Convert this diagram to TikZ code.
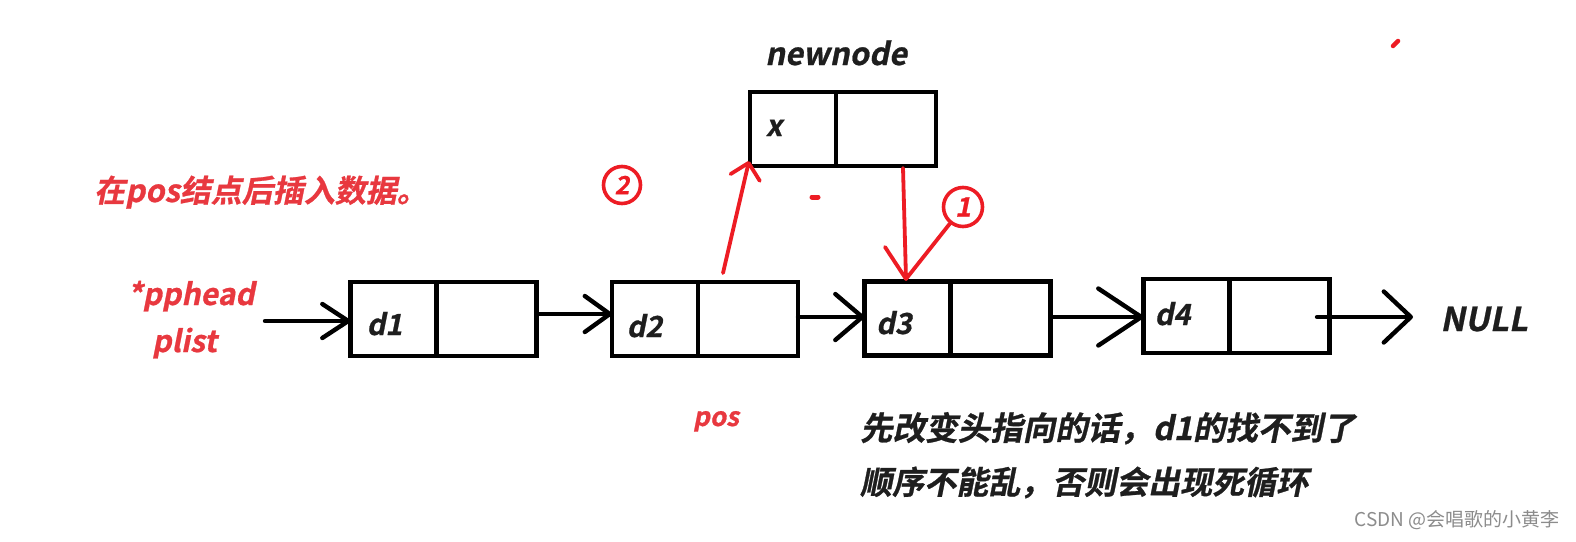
\documentclass[tikz,border=0pt]{standalone}
\usepackage{fontspec}
\usetikzlibrary{arrows.meta}
\newfontfamily\cjkb[FakeSlant=0.2,FakeBold=0.8]{Noto Sans CJK SC Bold}
\newfontfamily\cjkr{Noto Sans CJK SC}
\definecolor{inkred}{HTML}{ED1C24}
\definecolor{txtred}{HTML}{E8383F}
\definecolor{txtblk}{HTML}{1E1E1E}
\newcommand{\fsz}[1]{\fontsize{#1pt}{#1pt}\selectfont}
\begin{document}
\begin{tikzpicture}[x=1pt,y=-1pt,
  cell/.style={draw=black, line width=4.6pt, minimum width=186pt, minimum height=74pt, inner sep=0pt, outer sep=0pt},
  blk/.style={line width=4.4pt, line cap=round},
  lab/.style={font=\cjkb\fsz{29}, text=txtblk, anchor=base, inner sep=0pt},
  redtxt/.style={font=\cjkb\fsz{30}, text=txtred, anchor=base, inner sep=0pt},
  redln/.style={draw=inkred, line width=3.8pt, line cap=round},
  num/.style={circle, draw=inkred, line width=3.6pt, minimum size=39pt, inner sep=0pt, text=inkred, font=\cjkb\fsz{27}},
]
\useasboundingbox (0,0) rectangle (1576,541);
\fill[white] (0,0) rectangle (1576,541);

% boxes
\node[cell] (d1) at (443.5,319) {};
\node[cell] (d2) at (705,319) {};
\node[cell] (d3) at (957.5,318.5) {};
\node[cell] (d4) at (1236.5,316) {};
\node[cell] (nn) at (843,129) {};
\foreach \n in {d1,d2,d3,d4,nn}
  \draw[line width=4.6pt] ([xshift=86pt]\n.north west) -- ([xshift=86pt]\n.south west);

% labels in boxes
\node[lab] (l1) at (384.5,335) {d1};
\node[lab] (l2) at (644.5,337) {d2};
\node[lab] (l3) at (894,334) {d3};
\node[lab] (l4) at (1172.5,325) {d4};
\node[lab] (xl) at (774,136) {x};
\node[lab, font=\cjkb\fsz{31}] (nnl) at (836,65) {newnode};
\node[lab, font=\cjkb\fsz{33}] (nul) at (1484,331) {NULL};

% black arrows
\coordinate (hs) at (265,321);
\coordinate (y12) at (0,314);
\coordinate (y23) at (0,317);
\coordinate (s5) at (1317,317);
\coordinate (e5) at (1413,317);
\draw[blk, -{Straight Barb[length=26pt,width=34pt,round]}] (hs) -- (d1.west |- hs);
\draw[blk, -{Straight Barb[length=25pt,width=36pt,round]}] (d1.east |- y12) -- (d2.west |- y12);
\draw[blk, -{Straight Barb[length=27pt,width=46pt,round]}] (d2.east |- y23) -- (d3.west |- y23);
\draw[blk, -{Straight Barb[length=43pt,width=57pt,round]}] (d3.east |- y23) -- (d4.west |- y23);
\draw[blk, -{Straight Barb[length=27pt,width=51pt,round]}] (s5) -- (e5);

% red arrows and circled numbers
\coordinate (a2s) at (723,273);
\coordinate (a2t) at (749,161);
\draw[redln, -{Straight Barb[length=15pt,width=30pt,round]}] (a2s) -- (a2t);
\coordinate (a1s) at (903,168);
\coordinate (a1t) at (906,279);
\draw[redln] (a1s) -- (a1t);
\draw[redln] (a1t) -- ++(-21,-32);
\node[num] (c1) at (963,207) {1};
\node[num, minimum size=37pt, font=\cjkb\fsz{25}] (c2) at (622,185) {2};
\draw[redln] (c1) -- (a1t);
\draw[inkred, line width=5pt, line cap=round] (812,197) -- (818,197);
\draw[inkred, line width=4.5pt, line cap=round] (1393,46) -- (1398,41);

% texts
\node[redtxt, anchor=base west, font=\cjkb\fsz{31}] (title) at (94,202) {在pos结点后插入数据。};
\node[redtxt] (pp) at (191,305) {*pphead};
\node[redtxt] (pl) at (184.5,352) {plist};
\node[redtxt, font=\cjkb\fsz{26}] (pos) at (716,426) {pos};
\node[lab, anchor=base west, font=\cjkb\fsz{32.5}] (n1) at (860,440) {先改变头指向的话，d1的找不到了};
\node[lab, anchor=base west, font=\cjkb\fsz{32}] (n2) at (860,494) {顺序不能乱，否则会出现死循环};
\node[font=\cjkr\fsz{19}, text=black!45, inner sep=0pt] (wm) at (1457,520) {CSDN @会唱歌的小黄李};
\end{tikzpicture}
\end{document}
